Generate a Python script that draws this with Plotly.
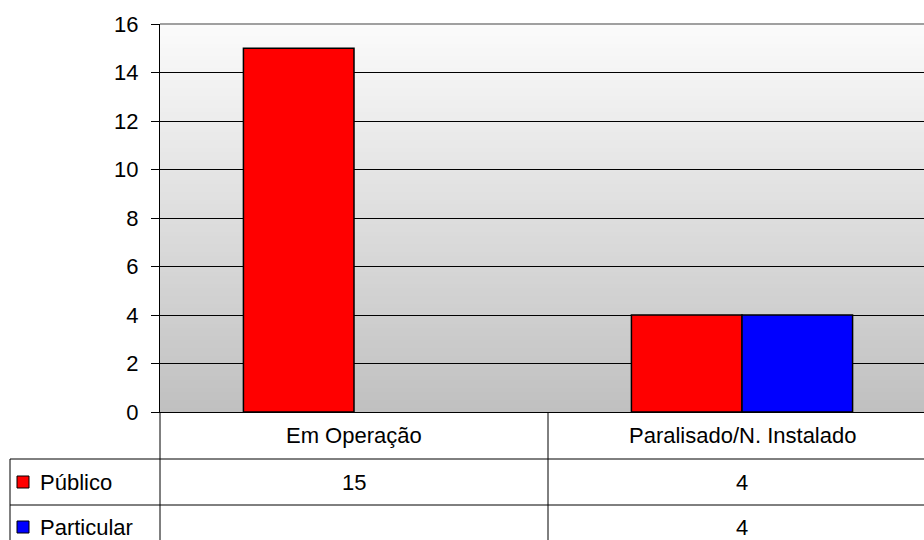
import plotly.graph_objects as go

# ---- data ----
categories = ["Em Operação", "Paralisado/N. Instalado"]
series_names = ["Público", "Particular"]
publico = [15, 4]
particular = [None, 4]
series_values = [publico, particular]
series_colors = ["#FF0000", "#0000FF"]
y_ticks = [0, 2, 4, 6, 8, 10, 12, 14, 16]

W, H = 924, 540
L, T = 160, 24
PLOT_BOTTOM = 412
B = H - PLOT_BOTTOM
R = 0
PW = W - L - R
PH = H - T - B
CAT_PX = 388  # width of one category in pixels

def px(xp):
    return (xp - L) / PW

def py(yp):
    return (PLOT_BOTTOM - yp) / PH

FONT = "Liberation Sans, Arial, sans-serif"
FS = 22

fig = go.Figure()
xs = list(range(len(categories)))
for name, vals, col in zip(series_names, series_values, series_colors):
    fig.add_trace(go.Bar(
        x=xs, y=vals, name=name,
        marker=dict(color=col, line=dict(color="black", width=1.5)),
        showlegend=False, hoverinfo="skip",
    ))

shapes = []
# gradient background
N = 97
for i in range(N):
    t = i / (N - 1)
    c = int(round(251 - (251 - 192) * t))
    shapes.append(dict(type="rect", xref="paper", yref="paper",
                       x0=0, x1=1, y0=1 - (i + 1) / N, y1=1 - i / N,
                       fillcolor=f"rgb({c},{c},{c})", line=dict(width=0),
                       layer="below"))
# top border (gray)
shapes.append(dict(type="line", xref="paper", yref="paper", x0=0, x1=1,
                   y0=1, y1=1, line=dict(color="#a0a0a0", width=2)))
# table lines
line = dict(color="black", width=1)
row1 = 459
row2 = 505
bottom = py(H + 5)
shapes += [
    dict(type="line", xref="paper", yref="paper", x0=px(10), x1=1.01, y0=py(row1), y1=py(row1), line=line),
    dict(type="line", xref="paper", yref="paper", x0=px(10), x1=1.01, y0=py(row2), y1=py(row2), line=line),
    dict(type="line", xref="paper", yref="paper", x0=px(10), x1=px(10), y0=py(row1), y1=bottom, line=line),
    dict(type="line", xref="paper", yref="paper", x0=0, x1=0, y0=0, y1=bottom, line=line),
    dict(type="line", xref="x", yref="paper", x0=0.5, x1=0.5, y0=0, y1=bottom, line=line),
]

annotations = []
# category header row
for i, cat in enumerate(categories):
    annotations.append(dict(x=i, xref="x", y=py(435.5), yref="paper", text=cat,
                            showarrow=False, font=dict(family=FONT, size=FS, color="black"),
                            xanchor="center", yanchor="middle"))
# series rows
row_centers = [482, 527]
for r, (name, vals, col) in enumerate(zip(series_names, series_values, series_colors)):
    yc = row_centers[r]
    shapes.append(dict(type="rect", xref="paper", yref="paper",
                       x0=px(17), x1=px(29), y0=py(yc + 6), y1=py(yc - 6),
                       fillcolor=col, line=dict(color="black", width=1)))
    annotations.append(dict(x=px(38), xref="paper", y=py(yc), yref="paper", text=name,
                            showarrow=False, font=dict(family=FONT, size=FS, color="black"),
                            xanchor="left", yanchor="middle"))
    for i, v in enumerate(vals):
        if v is None:
            continue
        annotations.append(dict(x=i, xref="x", y=py(yc), yref="paper", text=str(v),
                                showarrow=False, font=dict(family=FONT, size=FS, color="black"),
                                xanchor="center", yanchor="middle"))

fig.update_layout(
    width=W, height=H,
    margin=dict(l=L, r=R, t=T, b=B, pad=0),
    paper_bgcolor="white", plot_bgcolor="white",
    barmode="group", bargap=0.43, bargroupgap=0,
    font=dict(family=FONT, size=FS, color="black"),
    xaxis=dict(range=[-0.5, -0.5 + PW / CAT_PX], showticklabels=False, showgrid=False,
               zeroline=False, showline=True, linecolor="black", linewidth=1, ticks="",
               fixedrange=True),
    yaxis=dict(range=[0, 16], tickvals=y_ticks, ticktext=[str(v) for v in y_ticks],
               showgrid=True, gridcolor="black", gridwidth=1, zeroline=False,
               showline=True, linecolor="black", linewidth=1,
               ticks="outside", ticklen=8, tickcolor="black", tickwidth=1,
               ticklabelstandoff=8,
               tickfont=dict(family=FONT, size=FS, color="black"), fixedrange=True),
    shapes=shapes, annotations=annotations,
)

fig.write_html("out.html", config={"displayModeBar": False},
               post_script="document.body.style.margin='0';document.body.style.overflow='hidden';")
